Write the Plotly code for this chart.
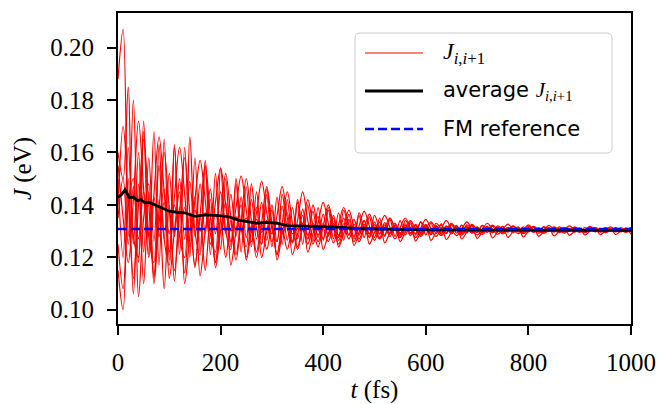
import numpy as np
import plotly.graph_objects as go

# ---------------- data (in meV) ----------------
SAMPLE_STEP_FS = 10  # spacing of the sampled red curves

J_line1 = [188, 207, 128, 180, 118, 172, 121, 168, 117, 165,
           119, 163, 121, 162, 120, 158, 122, 155, 121, 152,
           123, 150, 124, 148, 122, 147, 124, 145, 125, 144,
           124, 143, 125, 142, 126, 141, 125, 140, 126, 139,
           126.5, 138, 127, 137, 126.5, 136.5, 127, 136, 127.5, 135.5,
           127.5, 135, 128, 134.5, 128, 134, 128.5, 133.5, 128.5, 133.5,
           128.5, 133, 129, 132.8, 129, 132.5, 129.2, 132.3, 129.3, 132.2,
           129.4, 132, 129.5, 131.9, 129.5, 131.8, 129.6, 131.7, 129.6, 131.6,
           129.7, 131.5, 129.7, 131.5, 129.8, 131.4, 129.8, 131.4, 129.9, 131.3,
           129.9, 131.3, 130, 131.2, 130, 131.2, 130, 131.1, 130.1, 131.1, 130.2]

J_line2 = [115, 100, 150, 106, 148, 110, 145, 112, 142, 108,
           140, 111, 139, 114, 137, 116, 136, 115, 135, 118,
           134, 120, 134, 121, 133, 120, 132, 122, 133, 123,
           132, 121, 131, 123, 131, 124, 131, 125, 131, 126,
           131, 126, 131.5, 126.5, 131.5, 127, 131.5, 127, 131.5, 127.5,
           131.5, 127.5, 131.5, 128, 131.5, 128, 131.5, 128.3, 131.4, 128.5,
           131.3, 128.6, 131.3, 128.8, 131.2, 128.9, 131.2, 129, 131.1, 129.1,
           131.1, 129.2, 131, 129.3, 131, 129.3, 130.9, 129.4, 130.9, 129.4,
           130.9, 129.5, 130.8, 129.5, 130.8, 129.6, 130.8, 129.6, 130.7, 129.6,
           130.7, 129.7, 130.7, 129.7, 130.6, 129.7, 130.6, 129.7, 130.6, 129.8, 130.6]

J_line3 = [160, 150, 185, 128, 120, 168, 128, 118, 163, 127,
           117, 162, 128, 120, 166, 130, 121, 157, 129, 122,
           154, 130, 123, 150, 131, 124, 148, 131, 125, 146,
           131, 126, 144, 131, 126, 142, 131, 127, 140, 131,
           127, 139, 131, 127.5, 138, 131, 128, 137, 131, 128,
           136, 131, 128.5, 135, 131, 128.5, 134, 131, 129, 133.5,
           131, 129, 133, 131, 129.3, 132.7, 130.8, 129.4, 132.4, 130.8,
           129.5, 132.2, 130.7, 129.6, 132, 130.7, 129.7, 131.9, 130.6, 129.8,
           131.8, 130.6, 129.8, 131.7, 130.6, 129.9, 131.6, 130.5, 129.9, 131.5,
           130.5, 130, 131.4, 130.5, 130, 131.3, 130.5, 130, 131.2, 130.5, 130.1]

J_line4 = [140, 170, 142, 112, 140, 165, 140, 113, 138, 160,
           138, 115, 137, 158, 137, 117, 136, 155, 136, 118,
           135, 152, 135, 119, 134, 150, 134, 120, 133, 147,
           133, 121, 133, 145, 133, 123, 132, 142, 132, 124,
           132, 140, 132, 125, 131.5, 138, 131.5, 126, 131, 136.5,
           131, 127, 131, 135, 131, 127.5, 130.8, 134, 130.8, 128,
           130.7, 133.5, 130.7, 128.3, 130.6, 133, 130.6, 128.5, 130.5, 132.6,
           130.5, 128.7, 130.5, 132.3, 130.5, 128.9, 130.4, 132, 130.4, 129,
           130.4, 131.8, 130.4, 129.1, 130.4, 131.6, 130.4, 129.2, 130.4, 131.5,
           130.4, 129.3, 130.4, 131.4, 130.4, 129.4, 130.3, 131.3, 130.3, 129.5, 130.3]

J_line5 = [135, 150, 125, 147, 127, 145, 128, 143, 128, 141,
           129, 140, 129, 139, 130, 138, 130, 137, 130, 136.5,
           130, 136, 130, 135.5, 130, 135, 129.5, 134.5, 129.5, 134,
           129, 133.5, 129, 133, 129, 131, 133, 128.5, 133, 128.5,
           133, 128.5, 133, 128.5, 132.8, 128.5, 132.7, 128.7, 132.6, 128.8,
           132.5, 128.8, 132.4, 128.9, 132.3, 129, 132.2, 129, 132.1, 129.1,
           132, 129.1, 131.9, 129.2, 131.8, 129.3, 131.7, 129.3, 131.6, 129.4,
           131.5, 129.4, 131.5, 129.5, 131.4, 129.5, 131.3, 129.6, 131.3, 129.6,
           131.2, 129.7, 131.2, 129.7, 131.1, 129.8, 131.1, 129.8, 131, 129.8,
           131, 129.9, 131, 129.9, 130.9, 129.9, 130.9, 130, 130.9, 130, 130.8]

J_line6 = [125, 108, 140, 150, 105, 135, 148, 110, 133, 146,
           112, 130, 145, 110, 128, 143, 113, 130, 142, 116,
           130, 141, 117, 130, 140, 119, 130, 139, 120, 130,
           138, 119, 129, 137, 121, 129, 136, 122, 129, 135.5,
           123, 129, 135, 124, 129, 134.5, 124.5, 129.5, 134, 125,
           129.5, 133.5, 125.5, 129.5, 133, 126, 129.5, 132.8, 126.2, 129.5,
           132.6, 126.5, 129.6, 132.4, 126.8, 129.6, 132.2, 127, 129.7, 132,
           127.2, 129.7, 131.9, 127.4, 129.8, 131.8, 127.6, 129.8, 131.6, 127.8,
           129.9, 131.5, 128, 129.9, 131.4, 128.2, 130, 131.3, 128.4, 130,
           131.2, 128.5, 130, 131.1, 128.6, 130, 131, 128.7, 130, 131, 128.8]

J_line7 = [150, 120, 162, 125, 160, 122, 158, 126, 155, 127,
           152, 128, 150, 127, 149, 128, 148, 129, 146, 129,
           145, 129, 144, 128, 143, 127.5, 142, 127, 141, 126.5,
           140, 126, 139.5, 126.5, 139, 127, 138.5, 127, 137.5, 127.5,
           136.5, 128, 136, 128, 135, 128.5, 134.5, 128.5, 134, 129,
           133.5, 129, 133.2, 129.2, 133, 129.3, 132.8, 129.4, 132.6, 129.5,
           132.4, 129.6, 132.2, 129.6, 132, 129.7, 131.9, 129.8, 131.8, 129.8,
           131.6, 129.9, 131.5, 129.9, 131.4, 130, 131.3, 130, 131.2, 130,
           131.2, 130.1, 131.1, 130.1, 131, 130.1, 131, 130.2, 131, 130.2,
           130.9, 130.2, 130.9, 130.2, 130.9, 130.3, 130.8, 130.3, 130.8, 130.3, 130.8]

J_line8 = [155, 135, 118, 142, 172, 146, 120, 144, 166, 145,
           122, 143, 162, 144, 124, 142, 157, 142, 125, 141,
           154, 140, 126, 139, 151, 138, 126, 137, 149, 137,
           126, 136, 147, 135, 125.5, 134, 145, 134, 125, 133,
           141, 133, 125.5, 132.5, 139, 132.5, 126, 132, 137.5, 132,
           126.5, 131.5, 136, 131.5, 127, 131.3, 135, 131.2, 127.5, 131,
           134.5, 131, 128, 130.9, 134, 130.9, 128.3, 130.8, 133.5, 130.8,
           128.5, 130.7, 133, 130.7, 128.8, 130.6, 132.7, 130.6, 129, 130.5,
           132.4, 130.5, 129.2, 130.5, 132.2, 130.5, 129.4, 130.5, 132, 130.5,
           129.5, 130.4, 131.8, 130.4, 129.6, 130.4, 131.6, 130.4, 129.7, 130.4, 131.5]

red_lines = [J_line1, J_line2, J_line3, J_line4, J_line5, J_line6, J_line7, J_line8]

avg_t = [0, 7, 14, 22, 30, 38, 45, 52, 60, 70, 80, 90, 100, 115, 130, 150, 170,
         195, 215, 235, 255, 270, 290, 310, 330, 360, 400, 430, 460, 500, 550,
         600, 700, 800, 900, 1000]
avg_J = [142.8, 144.0, 145.8, 142.8, 143.0, 141.6, 142.0, 140.8, 141.0, 140.2,
         139.5, 138.6, 137.6, 137.2, 137.0, 135.6, 136.2, 135.9, 135.5, 134.2,
         133.6, 133.0, 133.3, 133.0, 132.1, 132.0, 131.7, 131.5, 131.0, 130.8,
         130.7, 130.5, 130.4, 130.4, 130.3, 130.3]

fm_t = [0, 1000]
fm_J = [130.8, 130.8]

MEV = 1e-3  # meV -> eV

# ---------------- figure ----------------
W, H = 659, 404
PX0, PX1, PY0, PY1 = 118, 631, 13, 324  # plot area in pixels


def px(x):
    return (x - PX0) / (PX1 - PX0)


def py(y):
    return (PY1 - y) / (PY1 - PY0)


SERIF = "Liberation Serif"
SANS = "DejaVu Sans"

fig = go.Figure()
for i, vals in enumerate(red_lines):
    t = np.arange(len(vals)) * SAMPLE_STEP_FS
    fig.add_trace(go.Scatter(
        x=t, y=np.array(vals) * MEV, mode="lines",
        line=dict(color="#ff0000", width=1.2, shape="spline", smoothing=1.0),
        name="J_{i,i+1}", showlegend=False, hoverinfo="skip"))

fig.add_trace(go.Scatter(x=avg_t, y=np.array(avg_J) * MEV, mode="lines",
                         line=dict(color="black", width=2.8),
                         name="average J_{i,i+1}", showlegend=False))
fig.add_trace(go.Scatter(x=fm_t, y=np.array(fm_J) * MEV, mode="lines",
                         line=dict(color="#0000ff", width=2.6, dash="9px,4px"),
                         name="FM reference", showlegend=False))

axis_common = dict(showline=True, linecolor="black", linewidth=2, mirror=True,
                   ticks="outside", ticklen=9, tickwidth=2, tickcolor="black",
                   showgrid=False, zeroline=False, automargin=False,
                   tickfont=dict(family=SERIF, size=25, color="black"))

fig.update_xaxes(range=[0, 1000], tick0=0, dtick=200, ticklabelstandoff=6,
                 title=dict(text="<i>t</i> (fs)", font=dict(family=SERIF, size=25, color="black"),
                            standoff=11),
                 **axis_common)
fig.update_yaxes(range=[0.09455, 0.21323], tick0=0.10, dtick=0.02, tickformat=".2f",
                 ticklabelstandoff=8,
                 title=dict(text="<i>J</i> (eV)", font=dict(family=SERIF, size=25, color="black"),
                            standoff=12),
                 **axis_common)

# legend box (rounded) drawn in paper coordinates
bx0, bx1, by0, by1, r = 355, 612, 33, 153, 5
rx, ry = r / (PX1 - PX0), r / (PY1 - PY0)
X0, X1, Y0, Y1 = px(bx0), px(bx1), py(by1), py(by0)
path = (f"M{X0+rx},{Y0} L{X1-rx},{Y0} Q{X1},{Y0} {X1},{Y0+ry} "
        f"L{X1},{Y1-ry} Q{X1},{Y1} {X1-rx},{Y1} L{X0+rx},{Y1} Q{X0},{Y1} {X0},{Y1-ry} "
        f"L{X0},{Y0+ry} Q{X0},{Y0} {X0+rx},{Y0} Z")
shapes = [dict(type="path", path=path, xref="paper", yref="paper",
               fillcolor="rgba(255,255,255,0.8)", line=dict(color="#cccccc", width=1),
               layer="above")]
entries = [
    (53, dict(color="#ff0000", width=1.2),
     "<i>J</i><sub><i>i</i>,<i>i</i>+1</sub>", SERIF, 24),
    (91, dict(color="black", width=2.8),
     f"average <span style='font-family:{SERIF}'><i>J</i><sub><i>i</i>,<i>i</i>+1</sub></span>", SANS, 21),
    (129, dict(color="#0000ff", width=2.6, dash="9px,4px"),
     "FM reference", SANS, 21),
]
annotations = []
for yy, ln, txt, fam, size in entries:
    shapes.append(dict(type="line", xref="paper", yref="paper",
                       x0=px(365), x1=px(423), y0=py(yy), y1=py(yy), line=ln, layer="above"))
    annotations.append(dict(x=px(441), y=py(yy), xref="paper", yref="paper",
                            text=txt, showarrow=False, xanchor="left", yanchor="middle",
                            font=dict(family=fam, size=size, color="black")))

fig.update_layout(width=W, height=H, margin=dict(l=PX0, r=W - PX1, t=PY0, b=H - PY1),
                  plot_bgcolor="white", paper_bgcolor="white", showlegend=False,
                  shapes=shapes, annotations=annotations)

fig.write_html("out.html")
